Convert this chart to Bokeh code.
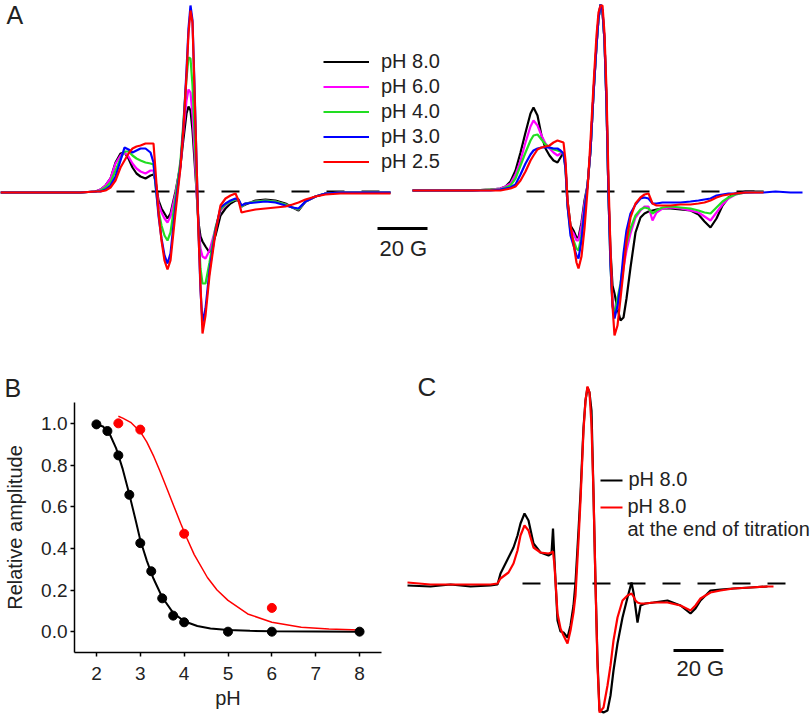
import numpy as np
from bokeh.plotting import figure
from bokeh.models import Range1d, Label, Legend, LegendItem, FixedTicker, PrintfTickFormatter
from bokeh.layouts import column, row
from bokeh.embed import file_html
from bokeh.resources import INLINE

FONT = "Liberation Sans"
BLACK, MAGENTA, GREEN, BLUE, RED = "#000000", "#ff00ff", "#22dd22", "#0000ff", "#ff0000"

# ---------------- Panel A, left spectra (field in G, amplitude in a.u.) ----------------
field_left = [0, 8, 16, 24, 32, 38, 40, 42, 44, 46, 48, 49.6, 51.2, 52.8, 54.4, 56, 58, 60, 61.2, 62,
              63.2, 64.4, 65.6, 66.8, 68, 70, 72, 73.2, 74.4, 75.2, 76, 76.8, 77.6, 78.4, 79.2, 80, 80.8,
              82, 83.6, 86, 88, 90, 92, 94, 95.2, 96.4, 98, 102, 106, 110, 114, 116.8, 119.2, 122, 126,
              130, 136, 144, 156]
left_ph80 = [-1, -1, -1, -1, -1, 0, 2, 6, 13, 29, 38, 39, 33, 24, 18, 15, 13, 16, 17, 11, -9, -17, -22, -27, -22,
             0, 26, 53, 78, 85, 81, 61, 31, 1, -31, -45, -50, -55, -61, -44, -24, -17, -12, -9, -9,
             -15, -13, -9, -8, -9, -12, -16, -19, -10, -5, -2, -1, -1, -1]
left_ph60 = [-1, -1, -1, -1, -1, 0, 2, 6, 13, 28, 36, 39, 35, 28, 23, 20, 18, 21, 21, 9, -12, -21, -27, -31, -25,
             -2, 28, 61, 91, 102, 99, 76, 41, 1, -34, -57, -65, -67, -59, -37, -19, -14, -10, -8, -8,
             -15, -12, -10, -9, -10, -13, -16, -18, -10, -5, -2, -1, -1, -1]
left_ph40 = [-1, -1, -1, -1, -1, 0, 1, 4, 9, 21, 33, 40, 40, 36, 33, 31, 29, 28, 27, 6, -19, -34, -44, -49, -41,
             -6, 31, 71, 113, 134, 133, 106, 61, 11, -39, -77, -92, -92, -71, -36, -18, -13, -10, -8, -8,
             -15, -12, -10, -9, -10, -13, -16, -18, -10, -5, -2, -1, -1, -1]
left_ph30 = [-1, -1, -1, -1, -1, 0, 0, 2, 6, 15, 31, 44, 42, 39, 41, 43, 43, 39, 29, 8, -24, -47, -64, -72, -62,
             -14, 26, 66, 121, 163, 186, 171, 106, 31, -39, -99, -131, -117, -79, -39, -16, -12, -9, -7, -8,
             -14, -12, -11, -10, -11, -14, -16, -17, -10, -5, -2, -1, -1, -1]
left_ph25 = [-1, -1, -1, -1, -1, 0, 0, 1, 4, 11, 24, 31, 38, 43, 45, 46, 48, 48, 48, 21, -21, -49, -69, -78, -69,
             -21, 24, 64, 116, 158, 181, 169, 101, 31, -42, -94, -142, -124, -84, -41, -14, -7, -4, -2, -9,
             -21, -20, -18, -17, -16, -15, -13, -11, -8, -5, -3, -2, -2, -2]

# ---------------- Panel A, right spectra ----------------
field_right = [0, 7.2, 15.2, 23.2, 31.2, 35.2, 37.2, 39.2, 41.2, 43.2, 45.2, 47.2, 48.4, 50, 51.6, 53.2, 54.8,
               56.4, 58, 59.2, 60.4, 61.2, 62, 63.2, 64.4, 65.6, 66.4, 67.6, 68.8, 70, 71.2, 72.4, 73.6, 74.4,
               75.2, 76, 76.8, 77.6, 78.4, 79.2, 80, 80.8, 82, 83.2, 84.4, 85.6, 87.2, 89.2, 91.2, 92.8, 94.4,
               96, 97.6, 100, 103.2, 107.2, 111.2, 114.4, 116.8, 119.2, 121.6, 124, 126.4, 129.2, 133.2, 140.4,
               145.2, 151.2, 156]
right_ph80 = [1, 1, 1, 1, 2, 3, 5, 10, 21, 39, 59, 78, 84, 76, 56, 43, 36, 31, 29, 34, 39, 26, -9, -34, -39,
              -46, -46, -31, -9, 6, 41, 98, 146, 173, 186, 179, 151, 91, -4, -59, -94, -102, -117, -129, -126,
              -107, -76, -41, -26, -22, -20, -19, -18, -17, -17, -18, -19, -23, -30, -36, -27, -14, -6, -2, 0,
              0, None, None, None]
right_ph60 = [1, 1, 1, 1, 2, 3, 5, 8, 17, 31, 49, 65, 71, 66, 56, 48, 43, 39, 36, 38, 39, 26, -14, -37, -42,
              -49, -49, -34, -12, 6, 41, 98, 146, 173, 187, 181, 151, 86, -4, -69, -109, -120, -117, -99, -76,
              -59, -42, -26, -19, -15, -15, -29, -21, -17, -16, -17, -19, -21, -25, -29, -21, -13, -7, -3, -1,
              0, None, None, None]
right_ph40 = [1, 1, 1, 1, 2, 2, 4, 6, 13, 26, 39, 51, 56, 57, 52, 47, 44, 42, 41, 40, 38, 23, -14, -41, -49,
              -57, -59, -44, -17, 6, 41, 98, 146, 173, 187, 181, 151, 86, -4, -74, -114, -122, -107, -92, -71,
              -52, -37, -24, -18, -16, -17, -22, -19, -16, -15, -16, -17, -19, -21, -22, -16, -10, -6, -3, -1,
              0, None, None, None]
right_ph30 = [1, 1, 1, 1, 1, 2, 3, 4, 7, 17, 28, 37, 41, 43, 44, 44, 44, 43, 43, 41, 38, 23, -14, -44, -54,
              -64, -67, -49, -19, 6, 41, 98, 146, 173, 187, 181, 151, 86, -4, -74, -114, -127, -114, -94, -62,
              -39, -22, -13, -7, -6, -7, -12, -12, -11, -11, -11, -10, -9, -8, -7, -4, -3, -2, -2, -1,
              -1, 0, -1, -1]
right_ph25 = [1, 1, 1, 1, 1, 1, 2, 3, 5, 11, 20, 31, 36, 42, 44, 45, 46, 49, 51, 50, 49, 31, -9, -34, -52,
              -71, -77, -65, -37, 1, 51, 106, 156, 179, 186, 186, 158, 101, 11, -59, -114, -144, -134, -107, -79,
              -49, -26, -12, -6, -3, -2, -12, -14, -14, -14, -13, -13, -12, -11, -9, -6, -4, -3, -2, -1,
              -1, None, None, None]

legend_labels = ["pH 8.0", "pH 6.0", "pH 4.0", "pH 3.0", "pH 2.5"]

# ---------------- Panel B: relative amplitude vs pH ----------------
ph_black = [2, 2.25, 2.5, 2.75, 3, 3.25, 3.5, 3.75, 4, 5, 6, 8]
amp_black = [0.995, 0.963, 0.846, 0.657, 0.425, 0.29, 0.16, 0.077, 0.045, 0.0, 0.0, 0.0]
ph_red = [2.5, 3, 4, 6]
amp_red = [1.0, 0.97, 0.47, 0.114]
fit_black_ph = [2.0, 2.15, 2.3, 2.45, 2.6, 2.75, 2.9, 3.0, 3.15, 3.3, 3.5, 3.75, 4.0, 4.3, 4.6, 5.0, 5.5, 6.0, 7.0, 8.0]
fit_black_amp = [0.995, 0.985, 0.95, 0.88, 0.78, 0.66, 0.53, 0.44, 0.34, 0.255, 0.165, 0.09, 0.05, 0.027, 0.015,
                 0.008, 0.004, 0.002, 0.001, 0.0]
fit_red_ph = [2.5, 2.6, 2.78, 3.0, 3.15, 3.31, 3.45, 3.62, 3.77, 3.92, 4.07, 4.23, 4.53, 4.75, 5.0, 5.45, 6.0, 6.67, 7.3, 8.0]
fit_red_amp = [1.034, 1.025, 1.005, 0.96, 0.91, 0.84, 0.77, 0.68, 0.60, 0.52, 0.445, 0.37, 0.26, 0.2, 0.15, 0.085,
               0.045, 0.021, 0.013, 0.008]
x_ticks_B = [2, 3, 4, 5, 6, 7, 8]
y_ticks_B = [0.0, 0.2, 0.4, 0.6, 0.8, 1.0]

# ---------------- Panel C ----------------
field_c = [0, 9.2, 17.2, 25.2, 33.2, 36, 37.2, 38.8, 40.4, 42.4, 44, 45.2, 46.8, 48.4, 50.4, 53.2, 56.4, 57.6, 58.2,
           58.8, 60, 61.2, 62.4, 64, 65.2, 66.4, 67.2, 68.4, 69.2, 70.4, 71.2, 72, 72.8, 73.6, 74.4, 75.2, 76, 76.8,
           78.4, 80, 81.2, 82.4, 84, 86, 88, 89.6, 90.4, 91.2, 92, 93.2, 95.2, 98.4, 104, 109.2, 113.2, 115.2, 117.2,
           121.2, 125.2, 130.4, 137.2, 144, 146.4]
c_ph80 = [-2, -3, -1, -3, -2, -1, 10, 18, 26, 36, 48, 60, 70, 63, 40, 31, 28, 30, 55, 23, -37, -48, -49, -54, -42,
          -22, 1, 53, 90, 156, 183, 196, 191, 173, 90, 0, -77, -127, -129, -127, -112, -87, -60, -34, -14,
          1, -9, -24, -39, -22, -20, -19, -17, -22, -30, -25, -17, -7, -6, -5, -4, -3, None]
c_ph80_end = [1, -1, -1, -1, -1, 0, 5, 8, 11, 20, 33, 48, 58, 53, 36, 31, 30, 31, 32, 18, -30, -45, -52, -60, -47,
              -29, -12, 43, 83, 153, 183, 197, 191, 158, 90, 0, -82, -129, -124, -102, -82, -57, -34, -17, -12,
              -10, -13, -17, -19, -20, -20, -19, -19, -22, -27, -22, -15, -9, -7, -5, -4, -3, -3]
c_labels = ["pH 8.0", "pH 8.0", "at the end of titration"]


def arr(v):
    return np.array([np.nan if x is None else x for x in v], dtype=float)


TXT = "#222222"

# ================= Figure A (page 0..812 x 0..360) =================
A_W, A_H = 812, 360
A_X0, A_X1 = 0.0, 324.8
A_TOP, A_BOT = 191.0, -169.0
RIGHT_OFFSET = 164.8


def xa(px):
    return A_X0 + px / 2.5


def ya(py):
    return A_TOP - py * (A_TOP - A_BOT) / A_H


pA = figure(width=A_W, height=A_H, x_range=Range1d(A_X0, A_X1), y_range=Range1d(A_BOT, A_TOP),
            output_backend="svg", toolbar_location=None, title=None,
            x_axis_location=None, y_axis_location=None,
            min_border_left=0, min_border_right=0, min_border_top=0, min_border_bottom=0)
pA.grid.visible = False
pA.outline_line_color = None

colors = [BLACK, MAGENTA, GREEN, BLUE, RED]
lefts = [left_ph80, left_ph60, left_ph40, left_ph30, left_ph25]
rights = [right_ph80, right_ph60, right_ph40, right_ph30, right_ph25]

pA.line([46.4, 156], [0, 0], line_color="black", line_width=2, line_dash="18 17")
pA.line([45.6 + RIGHT_OFFSET, 140.4 + RIGHT_OFFSET], [0, 0], line_color="black", line_width=2, line_dash="18 17")

legend_items = []
for lab, vals, col in zip(legend_labels, lefts, colors):
    r = pA.line(arr(field_left), arr(vals), line_color=col, line_width=2.2)
    legend_items.append(LegendItem(label=lab, renderers=[r]))
for vals, col in zip(rights, colors):
    pA.line(arr(field_right) + RIGHT_OFFSET, arr(vals), line_color=col, line_width=2.2)

legA = Legend(items=legend_items, location=(323, 186), orientation="vertical",
              glyph_width=46, glyph_height=25, label_height=25, spacing=0, label_standoff=12,
              padding=0, margin=0, border_line_color=None, background_fill_alpha=0,
              label_text_font=FONT, label_text_font_size="20px", label_text_color=TXT)
pA.add_layout(legA)

pA.line([xa(377), xa(377) + 20], [ya(228), ya(228)], line_color="black", line_width=3)
pA.add_layout(Label(x=xa(379), y=ya(248), text="20 G", text_font=FONT, text_font_size="22px",
                    text_baseline="middle", text_align="left", text_color=TXT))
pA.add_layout(Label(x=xa(6), y=ya(14), text="A", text_font=FONT, text_font_size="25px",
                    text_baseline="middle", text_align="left", text_color=TXT))

# ================= Figure B (page 0..400 x 360..715) =================
pB = figure(width=400, height=355, x_range=Range1d(1.5, 8.5), y_range=Range1d(-0.1, 1.1),
            output_backend="svg", toolbar_location=None,
            min_border_left=74, min_border_right=19, min_border_top=42, min_border_bottom=63)
pB.grid.visible = False
pB.outline_line_color = None
pB.title.text = "B"
pB.title.align = "left"
pB.title.offset = -70
pB.title.standoff = 2
pB.title.text_font = FONT
pB.title.text_font_size = "25px"
pB.title.text_font_style = "normal"
pB.title.text_color = TXT
pB.xaxis.ticker = FixedTicker(ticks=x_ticks_B)
pB.yaxis.ticker = FixedTicker(ticks=y_ticks_B)
pB.yaxis.formatter = PrintfTickFormatter(format="%.1f")
for ax in pB.axis:
    ax.minor_tick_line_color = None
    ax.major_tick_out = 4
    ax.major_tick_in = 0
    ax.axis_line_width = 1.5
    ax.major_tick_line_width = 1.5
    ax.major_label_text_font = FONT
    ax.major_label_text_font_size = "19px"
    ax.major_label_text_color = TXT
    ax.axis_label_text_font = FONT
    ax.axis_label_text_font_size = "20px"
    ax.axis_label_text_font_style = "normal"
    ax.axis_label_text_color = TXT
pB.xaxis.axis_label = "pH"
pB.yaxis.axis_label = "Relative amplitude"
pB.xaxis.major_label_standoff = 10
pB.xaxis.axis_label_standoff = 4
pB.yaxis.major_label_standoff = 3
pB.yaxis.axis_label_standoff = 12

pB.line(fit_black_ph, fit_black_amp, line_color=BLACK, line_width=2)
pB.line(fit_red_ph, fit_red_amp, line_color=RED, line_width=1.5)
pB.scatter(ph_black, amp_black, size=9, color=BLACK)
pB.scatter(ph_red, amp_red, size=9, color=RED)

# ================= Figure C (page 400..812 x 360..715) =================
C_W, C_H = 412, 355
C_X0, C_X1 = -2.8, 162.0
C_TOP, C_BOT = 223.0, -132.0


def xc(px):
    return C_X0 + (px - 400) / 2.5


def yc(py):
    return C_TOP - (py - 360) * (C_TOP - C_BOT) / C_H


pC = figure(width=C_W, height=C_H, x_range=Range1d(C_X0, C_X1), y_range=Range1d(C_BOT, C_TOP),
            output_backend="svg", toolbar_location=None, title=None,
            x_axis_location=None, y_axis_location=None,
            min_border_left=0, min_border_right=0, min_border_top=0, min_border_bottom=0)
pC.grid.visible = False
pC.outline_line_color = None

pC.line([46, 152.4], [0, 0], line_color="black", line_width=2, line_dash="18 17")
pC.line(arr(field_c), arr(c_ph80), line_color=BLACK, line_width=2.2)
pC.line(arr(field_c), arr(c_ph80_end), line_color=RED, line_width=2.2)

pC.line([xc(600), xc(622)], [yc(480), yc(480)], line_color=BLACK, line_width=2)
pC.line([xc(600), xc(622)], [yc(507), yc(507)], line_color=RED, line_width=2)
for txt, px, py in zip(c_labels, [628, 627, 627], [478, 505, 528]):
    pC.add_layout(Label(x=xc(px), y=yc(py), text=txt, text_font=FONT, text_font_size="20px",
                        text_baseline="middle", text_align="left", text_color=TXT))
pC.line([xc(673), xc(673) + 20], [yc(650), yc(650)], line_color="black", line_width=3)
pC.add_layout(Label(x=xc(676), y=yc(668), text="20 G", text_font=FONT, text_font_size="22px",
                    text_baseline="middle", text_align="left", text_color=TXT))
pC.add_layout(Label(x=xc(417), y=yc(386), text="C", text_font=FONT, text_font_size="26px",
                    text_baseline="middle", text_align="left", text_color=TXT))

# keep each plot's frame independent of its neighbour in the row
for p in (pA, pB, pC):
    try:
        p.frame_align = False
    except Exception:
        pass

layout = column(pA, row(pB, pC))
open("out.html", "w").write(file_html(layout, INLINE))
